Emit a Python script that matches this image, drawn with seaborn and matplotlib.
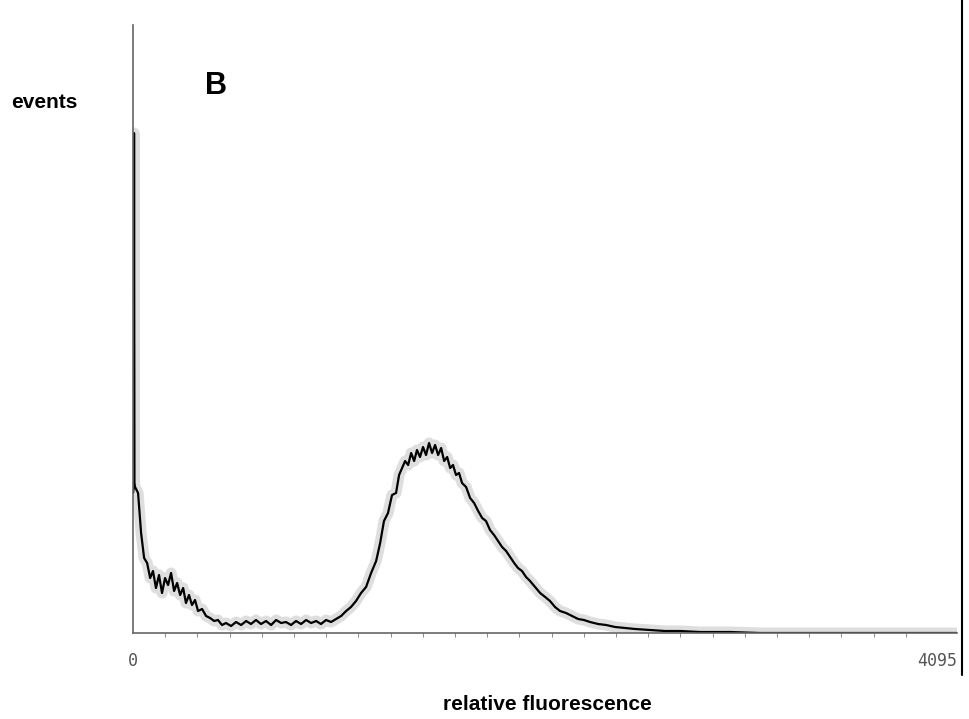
import numpy as np
import pandas as pd
import matplotlib
matplotlib.use("Agg")
import matplotlib.pyplot as plt
from matplotlib.lines import Line2D
import seaborn as sns

# channel (0..4095) and event counts
channel = [0, 3, 5, 7, 10, 25, 40, 55, 70, 85, 99, 114, 129, 144, 159, 174, 189, 204, 219,
           234, 249, 263, 278, 293, 308, 323, 343, 363, 383, 403, 422, 442, 462, 487, 512,
           537, 562, 586, 611, 636, 661, 686, 711, 736, 760, 785, 810, 835, 860, 885, 910,
           934, 959, 984, 1009, 1034, 1059, 1083, 1108, 1133, 1158, 1183, 1208, 1228, 1247,
           1267, 1287, 1307, 1322, 1337, 1352, 1367, 1382, 1397, 1411, 1426, 1441, 1456,
           1471, 1486, 1501, 1516, 1531, 1546, 1561, 1576, 1590, 1605, 1620, 1635, 1655,
           1675, 1695, 1715, 1735, 1754, 1774, 1794, 1814, 1834, 1854, 1874, 1894, 1913,
           1933, 1953, 1973, 1998, 2023, 2048, 2072, 2097, 2122, 2152, 2182, 2212, 2241,
           2271, 2311, 2351, 2396, 2445, 2495, 2569, 2644, 2719, 2818, 2967, 3116, 4095]
events = [140, 145, 500, 150, 146, 140, 100, 75, 70, 55, 62, 45, 58, 40, 55, 48, 60, 42, 50,
          38, 45, 30, 38, 28, 33, 22, 24, 17, 15, 12, 13, 8, 10, 7, 11,
          8, 12, 9, 13, 9, 12, 8, 13, 10, 11, 8, 12, 9, 13, 10, 12,
          9, 13, 11, 14, 17, 22, 26, 32, 40, 46, 60, 72, 90, 112,
          120, 138, 140, 158, 165, 172, 168, 180, 172, 183, 176, 186, 178,
          190, 180, 188, 178, 185, 172, 176, 165, 168, 158, 160, 150, 146,
          135, 130, 122, 115, 112, 103, 98, 92, 86, 82, 76, 70, 65,
          62, 56, 52, 46, 40, 36, 32, 26, 22, 20, 17, 14, 13,
          11, 9, 8, 6, 5, 4, 3, 2, 2, 1, 1, 0, 0]

df = pd.DataFrame({"channel": channel, "events": events})

sns.set_style("white")
plt.rcParams["font.family"] = ["Liberation Sans", "DejaVu Sans"]

fig = plt.figure(figsize=(9.69, 7.19), dpi=100)
ax = fig.add_axes([0.1373, 0.1196, 0.8504, 0.8456])

# grey halo like the scanned original, then the trace itself
sns.lineplot(data=df, x="channel", y="events", ax=ax, color="#d4d4d4", linewidth=8, alpha=0.75)
sns.lineplot(data=df, x="channel", y="events", ax=ax, color="black", linewidth=1.6)

ax.set_xlim(0, 4095)
ax.set_ylim(0, 608)
ax.set_xlabel("")
ax.set_ylabel("")
ax.set_yticks([])

ax.set_xticks([0, 4095])
ax.set_xticklabels(["0", "4095"], fontfamily="DejaVu Sans Mono", fontsize=12, color="#555555")
ax.get_xticklabels()[1].set_ha("right")
ax.set_xticks(np.arange(160, 4000, 160), minor=True)
ax.tick_params(axis="x", which="major", length=8, color="#444444", pad=6)
ax.tick_params(axis="x", which="minor", length=3, color="#777777", bottom=True)

for side in ["top", "right"]:
    ax.spines[side].set_visible(False)
for side in ["left", "bottom"]:
    ax.spines[side].set_color("#666666")
    ax.spines[side].set_linestyle((0, (1, 1)))
    ax.spines[side].set_linewidth(1.2)

# black border line on the right side of the panel
fig.add_artist(Line2D([962 / 969, 962 / 969], [1.0, 44 / 719], color="black", linewidth=1.5))

fig.text(44 / 969, 1 - 103 / 719, "events", fontsize=15, fontweight="bold", color="black",
         ha="center", va="center")
fig.text(216 / 969, 1 - 86 / 719, "B", fontsize=22, fontweight="bold", color="black",
         ha="center", va="center")
fig.text(547 / 969, 1 - 705 / 719, "relative fluorescence", fontsize=15, fontweight="bold",
         color="black", ha="center", va="center")

fig.savefig("out.png", dpi=100)
